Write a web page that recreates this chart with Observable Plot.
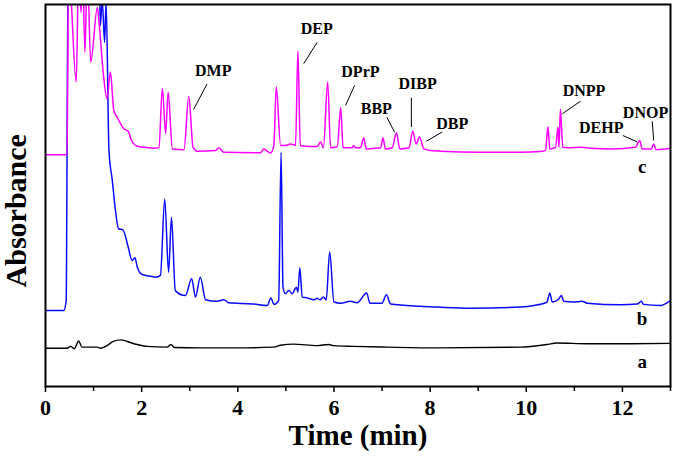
<!DOCTYPE html>
<html><head><meta charset="utf-8">
<script src="https://cdn.jsdelivr.net/npm/d3@7"></script>
<script src="https://cdn.jsdelivr.net/npm/@observablehq/plot@0.6"></script>
<style>body{margin:0;background:#fff;} #chart svg{display:block;}</style>
</head><body><div id="chart"></div>
<script>
// Trace a (black)
const aTime = [0,0.45,0.52,0.60,0.69,0.76,1.08,1.14,1.28,1.41,1.56,1.84,2.12,2.53,2.61,2.68,3.22,3.92,4.75,4.89,5.16,5.65,5.89,5.99,6.41,7.11,8.15,9.88,10.43,10.64,11.27,11.96,13.0];
const aAbs  = [10.0,10.0,10.5,9.9,11.9,10.3,10.3,10.0,10.7,11.8,12.2,11.2,10.5,10.3,11.0,10.2,10.1,10.1,10.3,10.8,11.1,10.7,11.0,10.7,10.5,10.3,10.1,10.3,11.0,11.4,11.2,11.2,11.3];

// Trace b (blue)
const bTime = [0,0.38,0.43,0.47,1.12,1.14,1.18,1.23,1.26,1.32,1.39,1.46,1.52,1.61,1.72,1.80,1.86,1.91,2.01,2.22,2.29,2.39,2.48,2.56,2.62,2.70,2.91,3.04,3.12,3.22,3.33,3.57,3.71,3.81,4.33,4.61,4.69,4.75,4.85,4.90,4.94,4.99,5.06,5.13,5.22,5.25,5.29,5.34,5.44,5.58,5.65,5.71,5.78,5.84,5.91,6.00,6.14,6.34,6.48,6.68,6.75,7.00,7.09,7.18,7.80,8.15,8.84,9.88,10.16,10.43,10.49,10.54,10.66,10.73,10.78,10.99,11.16,11.27,11.96,12.31,12.39,12.44,12.79,13.0];
const bAbs  = [19.9,19.9,22.5,110,110,94.5,101,90.1,101,61.8,53.9,45.6,41.3,41.0,36.5,33.0,33.7,31.2,29.3,28.8,28.6,29.1,49.1,29.9,44.3,25.1,23.8,28.2,23.4,28.6,22.7,22.3,22.7,21.9,21.6,21.2,23.2,21.5,22.5,61.3,26.0,24.3,25.1,24.3,26.0,24.7,31.1,23.4,23.2,22.7,23.1,22.7,23.4,22.7,35.2,22.1,21.8,22.3,21.9,24.5,21.8,21.8,24.0,21.6,21.0,20.8,20.5,20.8,21.2,22.1,24.5,22.1,22.7,23.8,22.3,22.1,22.3,21.8,21.4,21.6,22.3,21.5,21.2,22.5];

// Trace c (magenta)
const cTime = [0,0.45,0.48,0.64,0.69,0.74,0.77,0.82,0.87,0.94,1.08,1.11,1.21,1.28,1.35,1.42,1.49,1.63,1.72,1.79,1.91,2.08,2.29,2.36,2.43,2.50,2.55,2.64,2.88,2.98,3.07,3.16,3.54,3.60,3.71,4.47,4.54,4.68,4.75,4.80,4.89,4.99,5.10,5.20,5.25,5.30,5.51,5.65,5.72,5.78,5.87,5.93,6.07,6.14,6.19,6.38,6.41,6.45,6.55,6.62,6.67,6.97,7.02,7.07,7.21,7.30,7.37,7.56,7.64,7.71,7.78,7.87,8.01,8.22,9.05,9.88,10.30,10.40,10.45,10.49,10.61,10.66,10.68,10.71,10.76,10.88,11.13,11.34,11.79,12.27,12.36,12.41,12.60,12.65,12.70,13.0];
const cAbs  = [60.7,60.7,110,79.7,110,97.9,110,87.5,110,84.9,99.3,95.8,81.0,75.3,82.3,72.3,70.5,67.5,66.8,64.4,62.9,62.6,62.4,62.6,78.1,66.2,77.0,62.2,62.0,75.9,62.6,61.6,61.8,62.5,61.3,61.2,62.2,61.1,63.1,78.5,63.1,63.1,63.5,63.1,87.8,63.1,62.8,62.8,64.0,62.5,79.7,62.5,62.8,73.0,62.5,62.5,63.1,62.5,62.5,65.1,62.2,62.5,65.1,62.2,62.5,66.4,62.2,62.5,66.8,63.5,65.3,62.2,61.8,61.6,61.3,61.3,61.5,61.8,68.0,62.2,62.6,67.9,62.6,72.6,62.6,62.5,62.6,62.4,62.2,62.6,64.4,62.2,62.2,63.5,62.0,62.4];

// Peak annotations
const peakNames = ["DMP","DEP","DPrP","BBP","DIBP","DBP","DNPP","DEHP","DNOP"];
const labelTime = [3.49,5.64,6.55,6.88,7.74,8.46,11.20,11.56,12.48];
const labelAbs  = [82.7,93.7,82.3,72.7,79.2,68.8,77.3,67.7,71.5];
const leadTime1 = [3.36,5.65,6.43,7.10,7.61,8.25,11.13,12.01,12.62];
const leadAbs1  = [79.2,90.1,78.8,70.5,75.6,66.6,74.7,65.7,69.4];
const leadTime2 = [3.08,5.37,6.24,7.26,7.61,7.92,10.75,12.31,12.65];
const leadAbs2  = [72.5,84.5,73.6,66.6,67.9,64.2,71.4,64.0,64.4];

// Trace letters
const traceNames = ["a","b","c"];
const traceTime = [12.41,12.41,12.41];
const traceAbs = [6.4,17.7,57.4];

const majorTicks = [0,2,4,6,8,10,12];
const minorTicks = [1,3,5,7,9,11,13];

const serif = "'Liberation Serif','Times New Roman',serif";

const chart = Plot.plot({
  width: 675, height: 457,
  marginLeft: 45, marginRight: 5, marginTop: 4, marginBottom: 71,
  x: {domain: [0, 13], label: null},
  y: {domain: [0, 100], axis: null},
  style: {fontFamily: serif, background: "#fff", color: "#000"},
  marks: [
    Plot.line(aAbs, {x: aTime, y: aAbs, stroke: "#000", strokeWidth: 1.4, curve: "monotone-x", clip: true}),
    Plot.line(bAbs, {x: bTime, y: bAbs, stroke: "#0a0aff", strokeWidth: 1.5, curve: "monotone-x", clip: true}),
    Plot.line(cAbs, {x: cTime, y: cAbs, stroke: "#ff00ff", strokeWidth: 1.5, curve: "monotone-x", clip: true}),
    Plot.link(peakNames, {x1: leadTime1, y1: leadAbs1, x2: leadTime2, y2: leadAbs2, stroke: "#000", strokeWidth: 1}),
    Plot.text(peakNames, {x: labelTime, y: labelAbs, text: d => d, fontSize: 16, fontWeight: "bold", fill: "#000"}),
    Plot.text(traceNames, {x: traceTime, y: traceAbs, text: d => d, fontSize: 19, fontWeight: "bold", fill: "#000"}),
    Plot.frame({stroke: "#000", strokeWidth: 2}),
    Plot.axisX({ticks: majorTicks, tickSize: 6, tickPadding: 7, fontSize: 22, fontWeight: "bold", strokeWidth: 1.5}),
    Plot.axisX({ticks: minorTicks, tickSize: 5, tickFormat: () => "", strokeWidth: 1.5}),
    Plot.text(["Time (min)"], {frameAnchor: "bottom", dy: 58, text: d => d, fontSize: 29, fontWeight: "bold", fill: "#000"}),
    Plot.text(["Absorbance"], {x: [0], y: [46], dx: -29, rotate: -90, text: d => d, fontSize: 30, fontWeight: "bold", fill: "#000"})
  ]
});
document.getElementById("chart").appendChild(chart);
</script>
</body></html>
